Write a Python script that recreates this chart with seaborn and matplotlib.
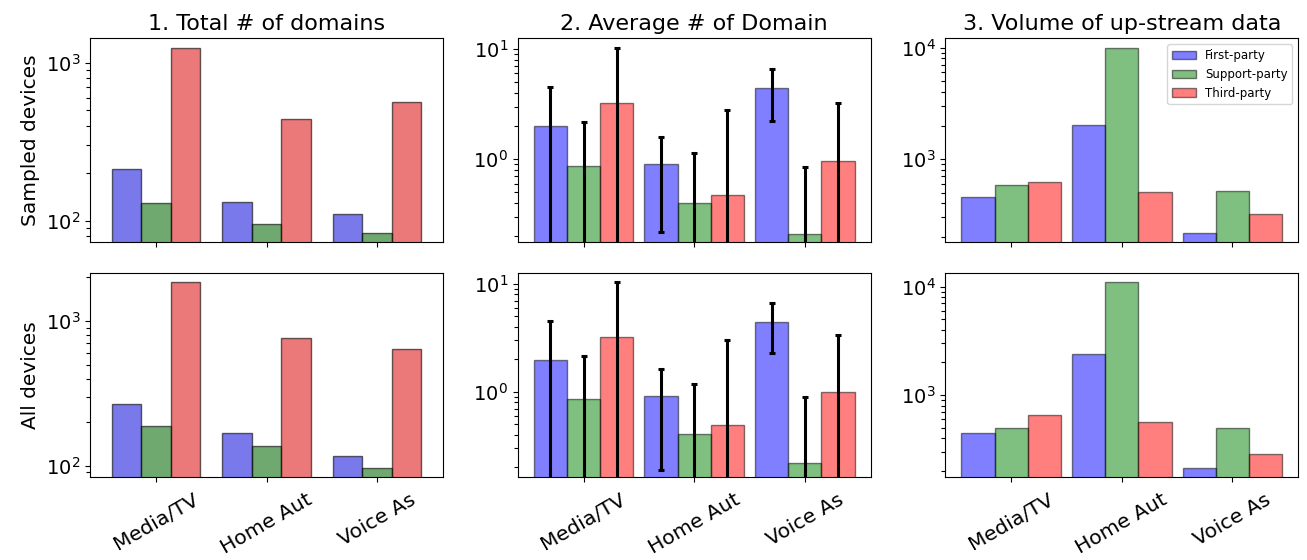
import pandas as pd
import numpy as np
import matplotlib.pyplot as plt
import seaborn as sns
from matplotlib.ticker import LogLocator

# categories / series
categories = ["Media/TV", "Home Aut", "Voice As"]
parties = ["First-party", "Support-party", "Third-party"]
colors = ["blue", "green", "red"]

# rows = parties, columns = categories
total_sampled = [[213, 132, 110], [130, 95, 84], [1233, 439, 562]]
total_all = [[267, 169, 117], [187, 137, 97], [1862, 758, 640]]

avg_sampled = [[1.99, 0.91, 4.40], [0.86, 0.40, 0.21], [3.26, 0.47, 0.97]]
avg_sampled_err = [[2.53, 0.69, 2.19], [1.31, 0.74, 0.64], [7.04, 2.35, 2.29]]
avg_all = [[1.99, 0.91, 4.45], [0.86, 0.41, 0.22], [3.25, 0.49, 0.99]]
avg_all_err = [[2.49, 0.72, 2.18], [1.29, 0.77, 0.67], [7.15, 2.56, 2.38]]

vol_sampled = [[459, 2043, 217], [585, 9877, 516], [626, 502, 319]]
vol_all = [[452, 2371, 213], [495, 11050, 495], [657, 563, 285]]

titles = ["1. Total # of domains", "2. Average # of Domain", "3. Volume of up-stream data"]
row_labels = ["Sampled devices", "All devices"]


def to_long(values):
    rows = []
    for p, vals in zip(parties, values):
        for c, v in zip(categories, vals):
            rows.append({"category": c, "party": p, "value": v})
    return pd.DataFrame(rows)


fig, axes = plt.subplots(2, 3, figsize=(13.07, 5.6), dpi=100)
fig.subplots_adjust(left=0.069, right=0.9933, top=0.9316, bottom=0.1488,
                    wspace=0.212, hspace=0.152)

grid = [
    [total_sampled, avg_sampled, vol_sampled],
    [total_all, avg_all, vol_all],
]
errs = [avg_sampled_err, avg_all_err]
ylims = [
    [(73.3, 1426), (0.177, 12.5), (180, 12140)],
    [(84, 2148), (0.164, 12.6), (177, 13380)],
]

for r in range(2):
    for c in range(3):
        ax = axes[r, c]
        df = to_long(grid[r][c])
        if c == 0:
            kw = dict(width=0.8, saturation=0.75, alpha=0.6,
                      edgecolor=(0, 0, 0, 0.6))
        else:
            kw = dict(width=0.9, saturation=1, alpha=0.5,
                      edgecolor=(0, 0, 0, 0.45))
        sns.barplot(data=df, x="category", y="value", hue="party",
                    order=categories, hue_order=parties, palette=colors,
                    errorbar=None, linewidth=1, legend=False, ax=ax, **kw)
        ax.set_yscale("log")

        if c == 1:
            for i, cont in enumerate(ax.containers[:3]):
                xs = [p.get_x() + p.get_width() / 2 for p in cont.patches]
                ax.errorbar(xs, grid[r][c][i], yerr=errs[r][i], fmt="none",
                            ecolor="black", elinewidth=2.2, capsize=2.5,
                            capthick=2.2)

        ax.set_xlim(-0.595, 2.595)
        ax.set_ylim(*ylims[r][c])
        ax.yaxis.set_major_locator(LogLocator(base=10))
        ax.yaxis.set_minor_locator(LogLocator(base=10, subs=np.arange(2, 10), numticks=50))
        ax.set_xlabel("")
        ax.set_ylabel(row_labels[r] if c == 0 else "", fontsize=14.5)
        ax.tick_params(axis="y", which="major", labelsize=14)
        ax.tick_params(axis="y", which="minor", left=True, length=3, width=0.8)
        if r == 0:
            ax.set_title(titles[c], fontsize=16)
            ax.set_xticklabels([])
        else:
            ax.set_xticks(range(len(categories)))
            ax.set_xticklabels(categories, rotation=30, fontsize=14.7)
            ax.tick_params(axis="x", pad=6)

        if r == 0 and c == 2:
            handles = [cont.patches[0] for cont in ax.containers[:3]]
            ax.legend(handles, parties, loc="upper right", fontsize=8.5)

fig.savefig("out.png", dpi=100)
